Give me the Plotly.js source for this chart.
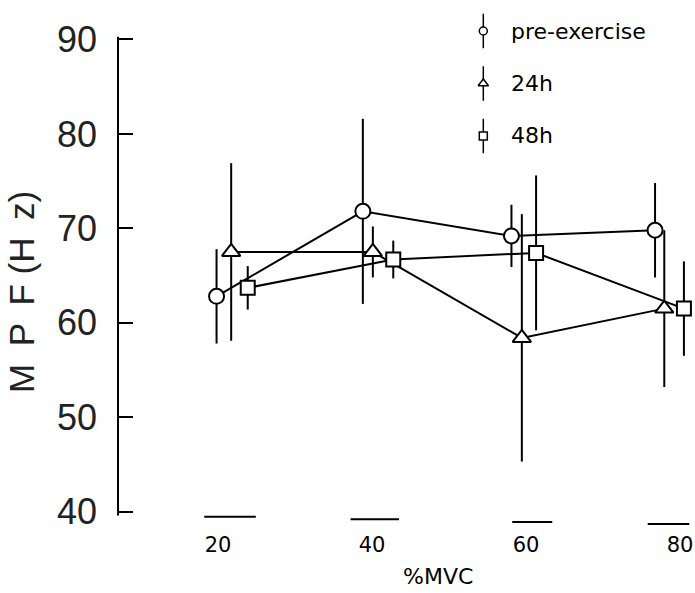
<!DOCTYPE html>
<html>
<head>
<meta charset="utf-8">
<script src="https://cdn.plot.ly/plotly-3.0.1.min.js"></script>
<style>
  html, body { margin: 0; padding: 0; background: #fff; }
  #chart { width: 695px; height: 593px; }
</style>
</head>
<body>
<div id="chart"></div>
<script>
// ---- data ----
const categories = [20, 40, 60, 80];          // %MVC
const xTickLabels = ['20', '40', '60', '80'];
const yTicks = [40, 50, 60, 70, 80, 90];
const seriesNames = ['pre-exercise', '24h', '48h'];

const preMean = [62.8, 71.8, 69.2, 69.8];
const preSD   = [5.0, 9.8, 3.3, 5.0];
const h24Mean = [67.5, 67.5, 58.4, 61.5];
const h24SD   = [9.4, 2.7, 13.1, 8.3];
const h48Mean = [63.7, 66.7, 67.4, 61.5];
const h48SD   = [2.3, 2.0, 8.2, 5.0];

// ---- presentation (positions / styles) ----
const dodge = [
  [-0.2, -1.2, -1.9, -3.25],
  [1.7, 0.1, -0.55, -2.05],
  [3.85, 2.75, 1.3, 0.5]
];
const symbols = ['circle', 'triangle-up', 'square'];
const sizes = [15, 16, 14];
const legendSizes = [8, 9, 8];
const baseDash = { dx0: [-1.8, -2.8, -1.8, -4.2], dx1: [4.9, 3.5, 3.4, 1.2], y: [39.47, 39.2, 38.9, 38.7] };

const means = [preMean, h24Mean, h48Mean];
const sds = [preSD, h24SD, h48SD];

const traces = [];
means.forEach((m, s) => {
  traces.push({
    type: 'scatter',
    mode: 'lines+markers',
    name: seriesNames[s],
    x: categories.map((c, i) => c + dodge[s][i]),
    y: m,
    error_y: { type: 'data', array: sds[s], visible: true, width: 0, thickness: 2, color: '#000' },
    line: { color: '#000', width: 2 },
    marker: { symbol: symbols[s], size: sizes[s], color: '#fff', line: { color: '#000', width: 2 } },
    cliponaxis: false,
    showlegend: false,
    hoverinfo: 'x+y'
  });
});

// legend glyphs (marker with vertical error line), on an invisible helper axis
seriesNames.forEach((n, s) => {
  traces.push({
    type: 'scatter',
    mode: 'markers',
    xaxis: 'x2', yaxis: 'y2',
    x: [0], y: [s],
    error_y: { type: 'data', array: [0.33], visible: true, width: 0, thickness: 1.5, color: '#000' },
    marker: { symbol: symbols[s], size: legendSizes[s], color: '#fff', line: { color: '#000', width: 1.5 } },
    cliponaxis: false,
    showlegend: false,
    hoverinfo: 'skip'
  });
});

const shapes = [
  { type: 'line', xref: 'paper', yref: 'y', x0: 0, x1: 0, y0: 39.6, y1: 90.3, line: { color: '#000', width: 2 } }
];
categories.forEach((c, i) => {
  shapes.push({ type: 'line', xref: 'x', yref: 'y', x0: c + baseDash.dx0[i], x1: c + baseDash.dx1[i],
    y0: baseDash.y[i], y1: baseDash.y[i], line: { color: '#000', width: 2 } });
});

const annotations = seriesNames.map((n, s) => ({
  xref: 'x2', yref: 'y2', x: 2.6, y: s, text: n, showarrow: false, xanchor: 'left', yanchor: 'middle',
  font: { family: 'DejaVu Sans', size: 22, color: '#000' }
}));
annotations.push({
  xref: 'paper', yref: 'paper', x: 0.558, y: -0.0988, text: '%MVC', showarrow: false,
  xanchor: 'center', yanchor: 'middle', font: { family: 'DejaVu Sans', size: 22, color: '#000' }
});
annotations.push({
  xref: 'paper', yref: 'paper', x: -0.1675, y: 0.4535, text: 'M\u2002P\u2002F (H\u2002z)', showarrow: false, textangle: -90,
  xanchor: 'center', yanchor: 'middle', font: { family: 'Liberation Sans', size: 35, color: '#222' }
});

const layout = {
  width: 695, height: 593,
  margin: { l: 118, r: 4, t: 10, b: 67 },
  paper_bgcolor: '#fff', plot_bgcolor: '#fff',
  showlegend: false,
  xaxis: {
    range: [7, 81.42], tickvals: categories, ticktext: xTickLabels,
    showline: false, ticks: '', showgrid: false, zeroline: false,
    tickfont: { family: 'DejaVu Sans', size: 21, color: '#000' }, ticklabelstandoff: 4
  },
  yaxis: {
    range: [38.48, 93.12], tickvals: yTicks, ticktext: yTicks.map(String),
    ticks: 'inside', ticklen: 15, tickwidth: 2, tickcolor: '#000',
    showline: false, showgrid: false, zeroline: false,
    tickfont: { family: 'Liberation Sans', size: 36, color: '#222' }, ticklabelstandoff: 20
  },
  xaxis2: { domain: [0.6, 1], anchor: 'y2', range: [-2.15, 20.77], visible: false },
  yaxis2: { domain: [0.7, 1], anchor: 'x2', range: [2.549, -0.4], visible: false },
  shapes: shapes,
  annotations: annotations
};

Plotly.newPlot('chart', traces, layout, { displayModeBar: false, staticPlot: true });
</script>
</body>
</html>
